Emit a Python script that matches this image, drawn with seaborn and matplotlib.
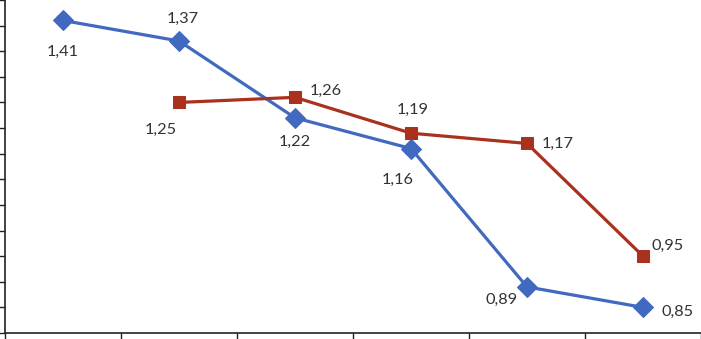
import matplotlib
matplotlib.use("Agg")
import matplotlib.pyplot as plt
import seaborn as sns
import pandas as pd
import numpy as np

categories = ["1", "2", "3", "4", "5", "6"]
series_a = [1.41, 1.37, 1.22, 1.16, 0.89, 0.85]
series_b = [np.nan, 1.25, 1.26, 1.19, 1.17, 0.95]
labels_a = ["1,41", "1,37", "1,22", "1,16", "0,89", "0,85"]
labels_b = ["", "1,25", "1,26", "1,19", "1,17", "0,95"]

sns.set_theme(style="white")
plt.rcParams["font.family"] = ["Lato", "DejaVu Sans"]

df = pd.DataFrame({
    "cat": categories * 2,
    "pos": list(range(len(categories))) * 2,
    "value": series_a + series_b,
    "series": ["A"] * len(categories) + ["B"] * len(categories),
})

blue = "#4169C0"
red = "#A8321E"

fig = plt.figure(figsize=(7.01, 3.39), dpi=100)
ax = fig.add_axes([5 / 701, 6 / 339, 696 / 701, 333 / 339])

dA = df[df.series == "A"]
dB = df[df.series == "B"].dropna()
sns.lineplot(data=dA, x="pos", y="value", ax=ax, color=blue, lw=2.3,
             marker="D", markersize=10, markeredgecolor=blue, clip_on=False)
sns.lineplot(data=dB, x="pos", y="value", ax=ax, color=red, lw=2.3,
             marker="s", markersize=8.5, markeredgecolor=red, clip_on=False)

# label offsets in pixels (dx, dy)
off_a = [(0, -31), (4, 22), (0, -24), (-13, -31), (-25, -13), (35, -5)]
off_b = [(0, 0), (-18, -27), (31, 6), (2, 23), (31, 0), (25, 10)]
px2pt = 72 / 100
for i, (v, t) in enumerate(zip(series_a, labels_a)):
    dx, dy = off_a[i]
    ax.annotate(t, (i, v), xytext=(dx * px2pt, dy * px2pt), textcoords="offset points",
                ha="center", va="center", fontsize=11.8, color="#333333")
for i, (v, t) in enumerate(zip(series_b, labels_b)):
    if not t:
        continue
    dx, dy = off_b[i]
    ax.annotate(t, (i, v), xytext=(dx * px2pt, dy * px2pt), textcoords="offset points",
                ha="center", va="center", fontsize=11.8, color="#333333")

ax.set_xlim(-0.5, 5.5)
ax.set_ylim(0.80, 1.45)
ax.set_xticks(np.arange(-0.5, 5.51, 1))
ax.set_yticks(np.arange(0.80, 1.451, 0.05))
ax.set_xticklabels([])
ax.set_yticklabels([])
ax.set_xlabel("")
ax.set_ylabel("")
for s in ["top", "right"]:
    ax.spines[s].set_visible(False)
for s in ["left", "bottom"]:
    ax.spines[s].set_color("#222222")
    ax.spines[s].set_linewidth(1.2)
ax.tick_params(axis="both", direction="out", length=4.3, width=1, color="#222222",
               left=True, bottom=True)
ax.grid(False)
fig.savefig("out.png", dpi=100)
